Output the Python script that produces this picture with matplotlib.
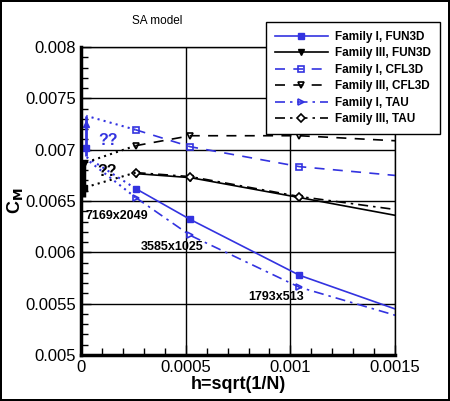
import matplotlib.pyplot as plt
from matplotlib.ticker import MultipleLocator

plt.rcParams["font.family"] = ["Liberation Sans", "DejaVu Sans"]

# grid spacing h = sqrt(1/N) for 7169x2049, 3585x1025, 1793x513, 897x257
h = [0.000261, 0.000522, 0.001043, 0.002083]
grid_names = ["7169x2049", "3585x1025", "1793x513"]

fam1_fun3d = [0.006621, 0.006320, 0.005777, 0.005030]
fam3_fun3d = [0.006767, 0.006728, 0.006534, 0.006140]
fam1_cfl3d = [0.007194, 0.007029, 0.006835, 0.006640]
fam3_cfl3d = [0.007039, 0.007136, 0.007136, 0.007025]
fam1_tau = [0.006534, 0.006165, 0.005660, 0.005040]
fam3_tau = [0.006777, 0.006738, 0.006544, 0.006256]

# extrapolated values near h=0 (uncertain, marked "??")
h0_fam1 = 0.000025
h0_fam3 = 0.000015
fam1_band = [0.00694, 0.00733]
fam3_band = [0.00654, 0.00690]
fam1_h0_marks = [0.00725, 0.00702]
fam3_h0_marks = [0.00686, 0.00663]
fam1_cfl3d_h0 = 0.00733
fam1_fun3d_h0 = 0.00693
fam1_tau_h0 = 0.00691
fam3_cfl3d_h0 = 0.00687
fam3_tau_h0 = 0.00663

blue = "#3333e0"
black = "black"

fig = plt.figure(figsize=(4.5, 4.01), dpi=100)
fig.patch.set_edgecolor("black")
fig.patch.set_linewidth(1.5)
ax = fig.add_axes([0.18, 0.1147, 0.698, 0.768])

ms = 5
ax.plot(h, fam1_fun3d, color=blue, ls="-", lw=1.2, marker="s", ms=ms, label="Family I, FUN3D")
ax.plot(h, fam3_fun3d, color=black, ls="-", lw=1.2, marker="v", ms=ms, label="Family III, FUN3D")
ax.plot(h, fam1_cfl3d, color=blue, ls=(0, (6, 5)), lw=1.2, marker="s", ms=ms, mfc="none",
        mew=1.2, label="Family I, CFL3D")
ax.plot(h, fam3_cfl3d, color=black, ls=(0, (6, 5)), lw=1.2, marker="v", ms=ms, mfc="none",
        mew=1.2, label="Family III, CFL3D")
ax.plot(h, fam1_tau, color=blue, ls=(0, (6, 3, 1.5, 3)), lw=1.2, marker=">", ms=ms, mfc="none",
        mew=1.2, label="Family I, TAU")
ax.plot(h, fam3_tau, color=black, ls=(0, (6, 3, 1.5, 3)), lw=1.2, marker="D", ms=4.5, mfc="white",
        mew=1.2, label="Family III, TAU")

# dotted extrapolation to h -> 0
dot = (0, (1, 2))
ax.plot([h[0], h0_fam1], [fam1_cfl3d[0], fam1_cfl3d_h0], color=blue, ls=dot, lw=1.5)
ax.plot([h[0], h0_fam1], [fam1_fun3d[0], fam1_fun3d_h0], color=blue, ls=dot, lw=1.5)
ax.plot([h[0], h0_fam1], [fam1_tau[0], fam1_tau_h0], color=blue, ls=dot, lw=1.5)
ax.plot([h[0], h0_fam3], [fam3_cfl3d[0], fam3_cfl3d_h0], color=black, ls=dot, lw=1.5)
ax.plot([h[0], h0_fam3], [fam3_tau[0], fam3_tau_h0], color=black, ls=dot, lw=1.5)

ax.vlines(h0_fam1, fam1_band[0], fam1_band[1], color=blue, lw=2)
ax.vlines(h0_fam3, fam3_band[0], fam3_band[1], color=black, lw=2.5)
ax.plot([h0_fam1], [fam1_h0_marks[0]], "^", color=blue, ms=5)
ax.plot([h0_fam1], [fam1_h0_marks[1]], "s", color=blue, ms=5)
ax.plot([h0_fam3], [fam3_h0_marks[0]], "v", color=black, ms=5)
ax.plot([h0_fam3], [fam3_h0_marks[1]], "s", color=black, ms=5)

ax.text(0.000129, 0.00709, "??", color=blue, fontsize=11.5, fontweight="bold", ha="center", va="center")
ax.text(0.000124, 0.006786, "??", color=black, fontsize=11.5, fontweight="bold", ha="center", va="center")

ax.text(0.00002, 0.00635, grid_names[0], fontsize=9, fontweight="bold", va="center")
ax.text(0.000287, 0.006049, grid_names[1], fontsize=9, fontweight="bold", va="center")
ax.text(0.000798, 0.005563, grid_names[2], fontsize=9, fontweight="bold", va="center")

ax.set_xlim(0, 0.0015)
ax.set_ylim(0.005, 0.008)
ax.xaxis.set_minor_locator(MultipleLocator(0.0001))
ax.yaxis.set_minor_locator(MultipleLocator(0.0001))
ax.set_xticks([0, 0.0005, 0.001, 0.0015])
ax.set_xticklabels(["0", "0.0005", "0.001", "0.0015"])
ax.set_yticks([0.005, 0.0055, 0.006, 0.0065, 0.007, 0.0075, 0.008])
ax.set_yticklabels(["0.005", "0.0055", "0.006", "0.0065", "0.007", "0.0075", "0.008"])
ax.tick_params(which="both", direction="in", labelsize=12, top=False, right=False)
ax.tick_params(which="major", length=7, width=1)
ax.tick_params(which="minor", length=5, width=1)
ax.grid(True, which="major", color="black", lw=1)
ax.spines["left"].set_linewidth(2.5)
ax.spines["bottom"].set_linewidth(2.5)
ax.spines["top"].set_linewidth(1)
ax.spines["right"].set_linewidth(1)

ax.set_xlabel("h=sqrt(1/N)", fontsize=13, fontweight="bold", labelpad=1)
ax.set_ylabel("C$_\\mathbf{M}$", fontsize=13, fontweight="bold", labelpad=0)
fig.text(0.35, 0.948, "SA model", fontsize=8.5, ha="center", va="center")

leg = ax.legend(loc="upper left", bbox_to_anchor=(0.591, 0.945), bbox_transform=fig.transFigure,
                fancybox=False, edgecolor="black", framealpha=1, borderaxespad=0,
                handlelength=4.5, labelspacing=0.38, borderpad=0.75, handletextpad=0.6,
                prop={"weight": "bold", "size": 8.5})
leg.get_frame().set_linewidth(1)

fig.savefig("out.png", dpi=100)
